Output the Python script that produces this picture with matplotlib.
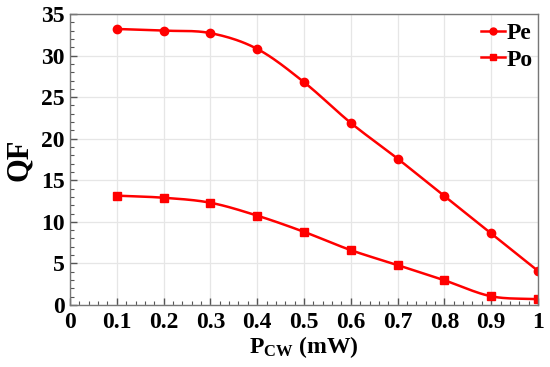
import matplotlib
matplotlib.use("Agg")
import matplotlib.pyplot as plt
import numpy as np
from matplotlib.ticker import MultipleLocator

p_cw = [0.1, 0.2, 0.3, 0.4, 0.5, 0.6, 0.7, 0.8, 0.9, 1.0]
qf_pe = [33.2, 33.0, 32.7, 30.8, 26.8, 21.9, 17.6, 13.1, 8.6, 4.1]
qf_po = [13.15, 12.9, 12.3, 10.75, 8.8, 6.6, 4.8, 2.97, 1.05, 0.69]

red = '#ff0000'


def smooth(x, y, n=20):
    # catmull-rom curve through the points, only for the drawn line
    x = np.asarray(x, float)
    y = np.asarray(y, float)
    px = np.concatenate([[2 * x[0] - x[1]], x, [2 * x[-1] - x[-2]]])
    py = np.concatenate([[2 * y[0] - y[1]], y, [2 * y[-1] - y[-2]]])
    t = np.linspace(0, 1, n, endpoint=False)
    xs, ys = [], []
    for i in range(1, len(px) - 2):
        for p, out in ((px, xs), (py, ys)):
            p0, p1, p2, p3 = p[i - 1], p[i], p[i + 1], p[i + 2]
            out.extend(0.5 * (2 * p1 + (-p0 + p2) * t
                              + (2 * p0 - 5 * p1 + 4 * p2 - p3) * t ** 2
                              + (-p0 + 3 * p1 - 3 * p2 + p3) * t ** 3))
    xs.append(x[-1])
    ys.append(y[-1])
    return np.array(xs), np.array(ys)


plt.rcParams['font.family'] = 'Liberation Serif'
plt.rcParams['font.weight'] = 'bold'
plt.rcParams['mathtext.fontset'] = 'custom'
plt.rcParams['mathtext.rm'] = 'Liberation Serif:bold'
plt.rcParams['mathtext.bf'] = 'Liberation Serif:bold'
plt.rcParams['mathtext.it'] = 'Liberation Serif:bold:italic'

fig = plt.figure(figsize=(5.5, 3.67), dpi=100)
ax = fig.add_axes([70 / 550, 1 - 305 / 367, 468 / 550, 291 / 367])

sx, sy = smooth(p_cw, qf_pe)
ax.plot(sx, sy, color=red, lw=1.8)
ax.plot(p_cw, qf_pe, 'o', color=red, ms=6)
sx, sy = smooth(p_cw, qf_po)
ax.plot(sx, sy, color=red, lw=1.8)
ax.plot(p_cw, qf_po, 's', color=red, ms=6)

# legend proxies
ax.plot([], [], '-o', color=red, lw=1.8, ms=5, label='Pe')
ax.plot([], [], '-s', color=red, lw=1.8, ms=5, label='Po')
ax.legend(loc='upper right', frameon=False, handlelength=1.0, handletextpad=0.1,
          borderaxespad=0.1, labelspacing=0.2, prop={'size': 17, 'weight': 'bold'},
          bbox_to_anchor=(1.015, 1.01))

ax.set_xlim(0, 1)
ax.set_ylim(0, 35)
ax.xaxis.set_minor_locator(MultipleLocator(0.02))
ax.yaxis.set_major_locator(MultipleLocator(5))
ax.yaxis.set_minor_locator(MultipleLocator(1))
ax.set_xticks(np.arange(0, 1.01, 0.1))
ax.set_xticklabels(['0', '0.1', '0.2', '0.3', '0.4', '0.5', '0.6', '0.7', '0.8', '0.9', '1'])
ax.tick_params(which='both', direction='in', colors='#555555', labelcolor='black',
               labelsize=17)
ax.tick_params(which='major', length=5, width=1)
ax.tick_params(which='minor', length=3, width=0.8)
ax.tick_params(axis='x', pad=5)
ax.tick_params(axis='y', pad=4)
ax.grid(True, color='#e6e6e6', lw=0.9)
ax.set_axisbelow(True)
for s in ax.spines.values():
    s.set_color('#777777')
    s.set_linewidth(1)

ax.set_xlabel(r'P$_{\mathrm{CW}}$ (mW)', fontsize=17, fontweight='bold', labelpad=1)
ax.set_ylabel('QF', fontsize=22, fontweight='bold', labelpad=5)

fig.savefig('out.png', dpi=100)
